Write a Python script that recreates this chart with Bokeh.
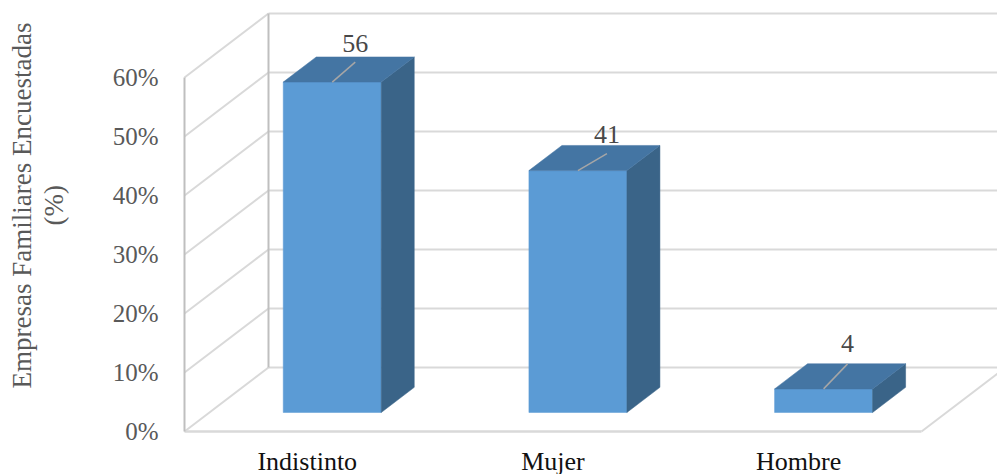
from bokeh.embed import file_html
from bokeh.resources import INLINE
from bokeh.plotting import figure
from bokeh.models import Range1d, FixedTicker, PrintfTickFormatter, Title
from bokeh.core.properties import value

categories = ["Indistinto", "Mujer", "Hombre"]
values = [56, 41, 4]
y_ticks = [0, 10, 20, 30, 40, 50, 60]
y_title_lines = ["(%)", "Empresas Familiares Encuestadas"]

# layout (pixels of the photographed page)
W, H = 997, 474
FRAME_L, FRAME_R, FRAME_T, FRAME_B = 176, 997, 8, 436
X0_PX, CAT_PX = 306.8, 245.67      # first category position, category spacing
Y0_PX, UNIT_PX = 431, 5.9          # pixel of 0 %, pixels per 1 %
DEPTH_X_PX, DEPTH_Y_PX = 84, 64    # oblique depth of the floor
DX, DY = DEPTH_X_PX / CAT_PX, DEPTH_Y_PX / UNIT_PX
HALF_W = 49 / CAT_PX
BAR_D0, BAR_D1 = 0.297, 0.69       # bar front/back depth as floor fraction
LEADER = [(23, 20), (29, 17), (24, 25)]   # px length of each label's leader
LABEL_GAP = [10, 11, 12]
TITLE_START_PX = [225, 388]        # page y where each rotated line starts
TITLE_SPACER = 9                   # extra standoff of the blank band before the title

GRID, AXIS = "#D9D9D9", "#BFBFBF"
FRONT, TOP, SIDE = "#5B9BD5", "#4475A3", "#3A6488"
SERIF = "Liberation Serif"


def pr(x, y, d):
    return x + d * DX, y + d * DY


p = figure(width=W, height=H, output_backend="svg", toolbar_location=None,
           x_range=Range1d((FRAME_L - X0_PX) / CAT_PX, (FRAME_R - X0_PX) / CAT_PX),
           y_range=Range1d((Y0_PX - FRAME_B) / UNIT_PX, (Y0_PX - FRAME_T) / UNIT_PX),
           frame_width=FRAME_R - FRAME_L, frame_height=FRAME_B - FRAME_T,
           min_border_left=FRAME_L, min_border_top=FRAME_T, min_border_right=0,
           min_border_bottom=H - FRAME_B)
p.outline_line_color = None
p.grid.visible = False

xa, ya = p.xaxis[0], p.yaxis[0]
xa.ticker = FixedTicker(ticks=list(range(len(categories))))
xa.major_label_overrides = {i: c for i, c in enumerate(categories)}
xa.axis_line_color = None
xa.major_tick_line_color = None
xa.minor_tick_line_color = None
xa.major_label_standoff = 4
xa.major_label_text_font = SERIF
xa.major_label_text_font_size = "26px"
xa.major_label_text_color = "#111111"

ya.ticker = FixedTicker(ticks=y_ticks)
ya.formatter = PrintfTickFormatter(format="%d%%")
ya.axis_line_color = None
ya.major_tick_line_color = None
ya.minor_tick_line_color = None
ya.major_label_standoff = 12
ya.major_label_text_font = SERIF
ya.major_label_text_font_size = "25px"
ya.major_label_text_color = "#595959"

# a blank title line keeps the axis title clear of the tick labels
p.add_layout(Title(text="\u00a0", standoff=TITLE_SPACER, text_font=SERIF, text_font_size="27px",
                   text_font_style="normal"), "left")

for txt, start in zip(y_title_lines, TITLE_START_PX):
    p.add_layout(Title(text=txt, align="left", offset=FRAME_B - start, standoff=0,
                       text_font=SERIF, text_font_size="27px", text_font_style="normal",
                       text_color="#595959"), "left")

# walls and floor
x_left = (184 - X0_PX) / CAT_PX
x_right = x_left + 3
lw = 2
for t in y_ticks:
    bx, by = pr(x_left, t, 1)
    p.line([x_left, bx], [t, by], line_color=GRID, line_width=lw)
    p.line([bx, bx + 3], [by, by], line_color=GRID, line_width=lw)
p.line([x_left, x_right], [0, 0], line_color=GRID, line_width=lw + 0.5)
ex, ey = pr(x_right, 0, 1)
p.line([x_right, ex], [0, ey], line_color=GRID, line_width=lw)
p.line([x_left, x_left], [0, y_ticks[-1]], line_color=AXIS, line_width=lw)
b0x, b0y = pr(x_left, 0, 1)
b1x, b1y = pr(x_left, y_ticks[-1], 1)
p.line([b0x, b1x], [b0y, b1y], line_color=AXIS, line_width=lw)

# 3-D bars
for i, v in enumerate(values):
    l, r = i - HALF_W, i + HALF_W
    fl0 = pr(l, 0, BAR_D0); fr0 = pr(r, 0, BAR_D0)
    fl1 = pr(l, v, BAR_D0); fr1 = pr(r, v, BAR_D0)
    bl1 = pr(l, v, BAR_D1); br1 = pr(r, v, BAR_D1); br0 = pr(r, 0, BAR_D1)
    for pts, col in (([fl0, fr0, fr1, fl1], FRONT),
                     ([fr0, br0, br1, fr1], SIDE),
                     ([fl1, fr1, br1, bl1], TOP)):
        p.patch([q[0] for q in pts], [q[1] for q in pts], fill_color=col, line_color=col, line_width=0.5)
    sx, sy = pr(i, v, BAR_D0)
    ldx, ldy = LEADER[i]
    tx, ty = sx + ldx / CAT_PX, sy + ldy / UNIT_PX
    p.line([sx, tx], [sy, ty], line_color="#A6A6A6", line_width=1.5)
    p.text([tx], [ty], text=[str(v)], text_align="center", text_baseline="bottom",
           y_offset=-LABEL_GAP[i], text_font=value(SERIF), text_font_size="26px",
           text_color="#484848")

open("out.html", "w").write(file_html(p, INLINE))
